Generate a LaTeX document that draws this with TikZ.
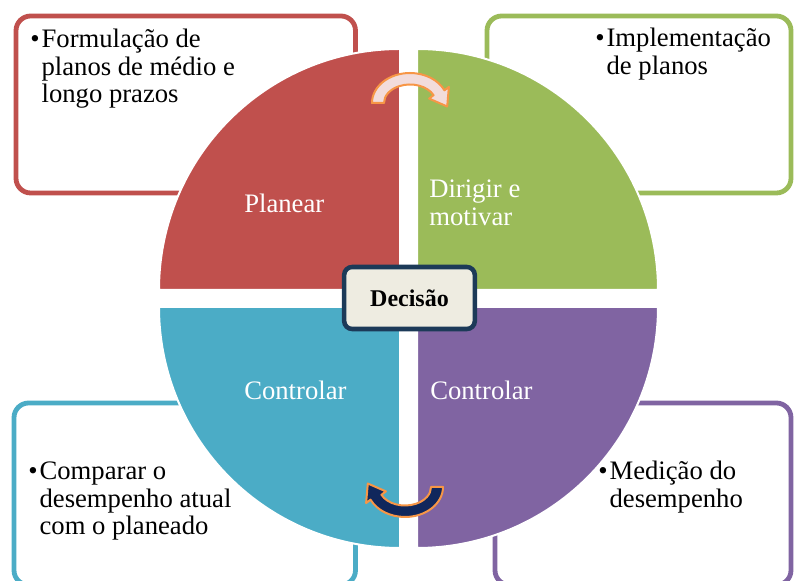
\documentclass[tikz,border=0pt]{standalone}
\usepackage{fontspec}
\setmainfont{Liberation Serif}
\usetikzlibrary{calc}
\definecolor{planred}{HTML}{C0504D}
\definecolor{leadgreen}{HTML}{9BBB59}
\definecolor{ctrlblue}{HTML}{4BACC6}
\definecolor{ctrlpurple}{HTML}{8064A2}
\definecolor{arroworange}{HTML}{F79646}
\definecolor{arrowpink}{HTML}{F2DCDB}
\definecolor{arrownavy}{HTML}{10275C}
\definecolor{decnavy}{HTML}{1C3A58}
\definecolor{decfill}{HTML}{EEECE1}
% curved arrow: [style](centre)(rotation)
\def\turnarrow[#1](#2)(#3){\begin{scope}[shift={(#2)},rotate=#3]
	\draw[#1] (180:38 and 30) arc[start angle=180,end angle=25,x radius=38,y radius=30]
		-- (38.9,16.1) -- (37.2,-3.5) -- (19.1,4.4) -- (23.56,7.82)
		arc[start angle=25,end angle=180,x radius=26,y radius=18.5] -- cycle;
	\end{scope}}

\begin{document}
\begin{tikzpicture}[x=0.75pt,y=0.75pt,
		sidebox/.style={line width=3.6pt,rounded corners=11pt},
		quarter/.style={draw=white,line width=1.5pt},
		bodytext/.style={inner sep=0pt,anchor=base west,font=\fontsize{20}{20.6}\selectfont},
		quartertext/.style={bodytext,text=white}]
	\useasboundingbox (0,0) rectangle (794,581);
	
	%%%%% boxes %%%%%
	\draw[sidebox,planred] (16,565) rectangle (355.5,388);
	\draw[sidebox,leadgreen] (487,565) rectangle (791,388);
	\draw[sidebox,ctrlblue] (14,178) rectangle (355.5,-4);
	\draw[sidebox,ctrlpurple] (495,178) rectangle (791,-4);
	
	%%%%% circle %%%%%
	\filldraw[quarter,fill=planred] (400,291) -- (159,291) arc[start angle=180,end angle=90,radius=241] -- cycle;
	\filldraw[quarter,fill=leadgreen] (417,291) -- (417,532) arc[start angle=90,end angle=0,radius=241] -- cycle;
	\filldraw[quarter,fill=ctrlblue] (400,274) -- (400,33) arc[start angle=270,end angle=180,radius=241] -- cycle;
	\filldraw[quarter,fill=ctrlpurple] (417,274) -- (658,274) arc[start angle=0,end angle=-90,radius=241] -- cycle;
	
	\turnarrow[draw=arroworange,fill=arrowpink,line width=1.5pt,line join=round](410,478)(0);
	\turnarrow[draw=arroworange,fill=arrownavy,line width=1.5pt,line join=round](405,94)(180);
	
	\node[draw=decnavy,fill=decfill,line width=3.4pt,rounded corners=6pt,
		minimum width=98pt,minimum height=46.5pt,inner sep=0pt,
		font=\fontsize{18}{20}\selectfont\bfseries] (decisao) at (409.5,283) {Decisão};
	
	%%%%% labels %%%%%
	\node[quartertext] (planear) at (244,368) {Planear};
	\node[quartertext] (dirigir) at (429,383) {\begin{tabular}[t]{@{}l@{}}Dirigir e\\motivar\end{tabular}};
	\node[quartertext] (controlarA) at (244,181) {Controlar};
	\node[quartertext] (controlarB) at (430,181) {Controlar};
	
	\node[bodytext] (formulacao) at (30,533) {\begin{tabular}[t]{@{}l@{\hspace{1.5pt}}l@{}}\textbullet & Formulação de\\ & planos de médio e\\ & longo prazos\end{tabular}};
	\node[bodytext] (implementacao) at (595,534) {\begin{tabular}[t]{@{}l@{\hspace{1.5pt}}l@{}}\textbullet & Implementação\\ & de planos\end{tabular}};
	\node[bodytext] (comparar) at (28,101) {\begin{tabular}[t]{@{}l@{\hspace{1.5pt}}l@{}}\textbullet & Comparar o\\ & desempenho atual\\ & com o planeado\end{tabular}};
	\node[bodytext] (medicao) at (598,101) {\begin{tabular}[t]{@{}l@{\hspace{1.5pt}}l@{}}\textbullet & Medição do\\ & desempenho\end{tabular}};
\end{tikzpicture}
\end{document}
